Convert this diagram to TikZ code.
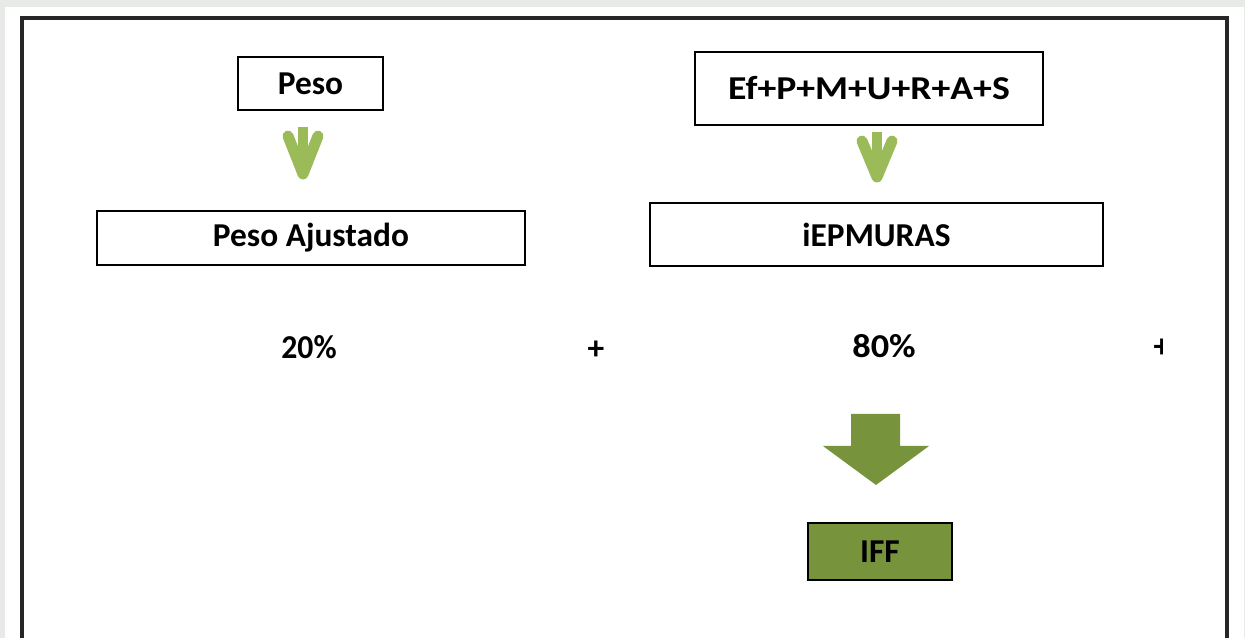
\documentclass[tikz,border=0pt]{standalone}
\usepackage{fontspec}
\setmainfont{Carlito}
\usetikzlibrary{positioning}
\definecolor{pagegrey}{HTML}{E7EAE6}
\definecolor{lightgreen}{HTML}{9BBB59}
\definecolor{olive}{HTML}{77933C}
\begin{document}
\begin{tikzpicture}[x=0.02cm,y=-0.02cm,
  every node/.style={font=\fontsize{19}{22}\selectfont\bfseries,inner sep=0pt},
  labelbox/.style={draw=black,line width=1.3pt,fill=white},
  arrowshaft/.style={lightgreen,line width=0.2cm},
  arrowwings/.style={lightgreen,line width=0.22cm,line cap=round,line join=round}]

  % page and frame
  \fill[pagegrey] (0,0) rectangle (1245,638);
  \fill[white] (5,7) rectangle (1244,638);
  \useasboundingbox (0,0) rectangle (1245,638);
  \draw[line width=1.8pt,black!85] (22,640) -- (22,18) -- (1227,18) -- (1227,640);

  % left column
  \node[labelbox,minimum width=2.9cm,minimum height=1.06cm] (peso) at (310.5,83.5) {\raisebox{-0.04cm}{Peso}};
  \node[labelbox,minimum width=8.56cm,minimum height=1.08cm] (pesoaj) at (311,238) {Peso Ajustado};
  \node[xscale=0.95] (pct20) at (309,347) {20\%};
  \node (plus1) at (596,350) {+};

  % right column
  \node[labelbox,minimum width=6.96cm,minimum height=1.46cm] (sum) at (869,88.5)
    {\raisebox{-0.1cm}{\scalebox{1.13}[1]{Ef+P+M+U+R+A+S}}};
  \node[labelbox,minimum width=9.06cm,minimum height=1.26cm] (iepm) at (876.5,234.5)
    {\raisebox{-0.1cm}{iEPMURAS}};
  \node[xscale=1.09] (pct80) at (884,346) {80\%};
  \begin{scope}
    \clip (1100,300) rectangle (1162,400);
    \node (plus2) at (1162,348) {+};
  \end{scope}
  \node[draw=black,line width=1.3pt,fill=olive,minimum width=2.88cm,minimum height=1.14cm] (iff) at (880,551.5) {IFF};

  % small arrows
  \foreach \x/\t/\b in {303/127/179, 877/132/182} {
    \draw[arrowshaft] (\x,\t) -- (\x,\b-14);
    \draw[arrowwings] (\x-15,\t+9) -- (\x,\b-5) -- (\x+15,\t+9);
  }

  % big arrow
  \fill[olive] (851,414) -- (900,414) -- (900,446) -- (929,446) -- (876,485)
    -- (823,446) -- (851,446) -- cycle;
\end{tikzpicture}
\end{document}
